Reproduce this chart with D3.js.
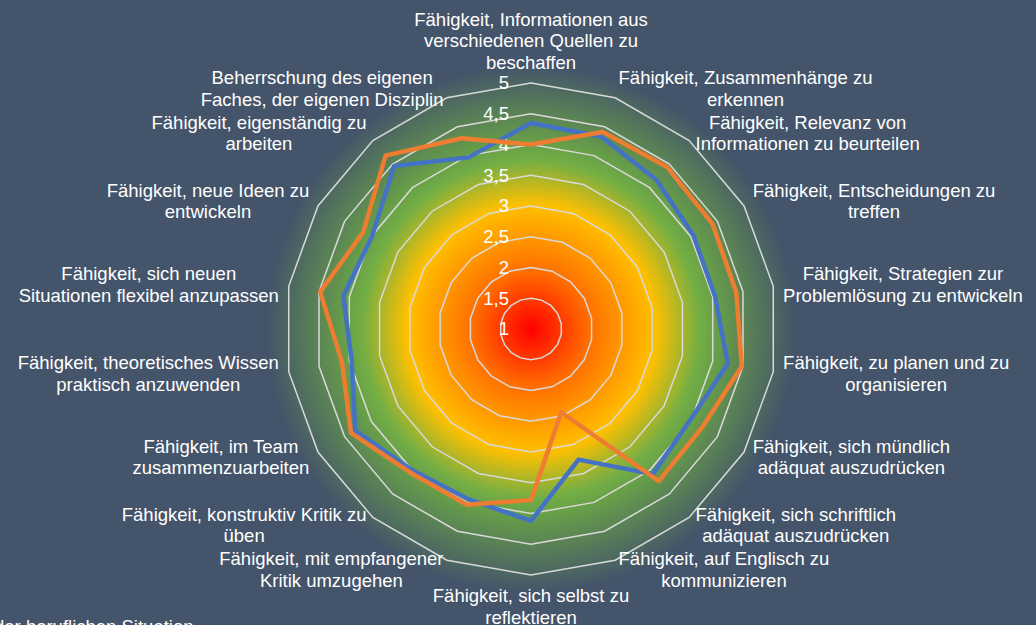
<!DOCTYPE html>
<html>
<head>
<meta charset="utf-8">
<script src="https://cdn.jsdelivr.net/npm/d3@7"></script>
<style>
  html, body { margin: 0; padding: 0; background: #44546a; }
  svg { display: block; font-family: "Liberation Sans", Arial, sans-serif; }
</style>
</head>
<body>
<div id="chart"></div>
<script>
'use strict';

// categories, clockwise from the top (line breaks as in the original)
const categories = [
  "Fähigkeit, Informationen aus\nverschiedenen Quellen zu\nbeschaffen",
  "Fähigkeit, Zusammenhänge zu\nerkennen",
  "Fähigkeit, Relevanz von\nInformationen zu beurteilen",
  "Fähigkeit, Entscheidungen zu\ntreffen",
  "Fähigkeit, Strategien zur\nProblemlösung zu entwickeln",
  "Fähigkeit, zu planen und zu\norganisieren",
  "Fähigkeit, sich mündlich\nadäquat auszudrücken",
  "Fähigkeit, sich schriftlich\nadäquat auszudrücken",
  "Fähigkeit, auf Englisch zu\nkommunizieren",
  "Fähigkeit, sich selbst zu\nreflektieren",
  "Fähigkeit, mit empfangener\nKritik umzugehen",
  "Fähigkeit, konstruktiv Kritik zu\nüben",
  "Fähigkeit, im Team\nzusammenzuarbeiten",
  "Fähigkeit, theoretisches Wissen\npraktisch anzuwenden",
  "Fähigkeit, sich neuen\nSituationen flexibel anzupassen",
  "Fähigkeit, neue Ideen zu\nentwickeln",
  "Fähigkeit, eigenständig zu\narbeiten",
  "Beherrschung des eigenen\nFaches, der eigenen Disziplin"
]

const seriesBlue   = [4.35, 4.33, 4.17, 4.05, 4.04, 4.25, 3.98, 4.08, 3.26, 4.12, 3.95, 4.00, 4.30, 3.96, 4.10, 3.99, 4.46, 3.97]
const seriesOrange = [4.00, 4.41, 4.44, 4.41, 4.39, 4.48, 4.21, 4.23, 2.44, 3.78, 4.04, 4.05, 4.38, 4.12, 4.48, 4.15, 4.68, 4.30]

const tickValues = [1, 1.5, 2, 2.5, 3, 3.5, 4, 4.5, 5]
const tickLabels = ["1", "1,5", "2", "2,5", "3", "3,5", "4", "4,5", "5"]

const cutLegendText = "der beruflichen Situation"

const width = 1036, height = 625
const cx = 531, cy = 329, radius = 246
const fontSize = 18.5, lineH = 21.5
const glowR = 264

const svg = d3.select("#chart")
  .append("svg")
  .attr("width", width)
  .attr("height", height)

svg.append("rect")
  .attr("width", width)
  .attr("height", height)
  .attr("fill", "#44546a")

// radial fill behind the grid
const grad = svg.append("defs")
  .append("radialGradient")
  .attr("id", "glow")
  .attr("gradientUnits", "userSpaceOnUse")
  .attr("cx", cx).attr("cy", cy).attr("r", glowR)

const stops = [[0, "#ff0000"], [0.22, "#ff6e00"], [0.47, "#ffc000"], [0.64, "#72ae45"], [0.7, "#68a048"], [1, "#44546a"]]
grad.selectAll("stop")
  .data(stops)
  .join("stop")
  .attr("offset", d => d[0])
  .attr("stop-color", d => d[1])

svg.append("circle")
  .attr("cx", cx).attr("cy", cy).attr("r", glowR)
  .attr("fill", "url(#glow)")

const n = categories.length
const angle = d3.scaleLinear().domain([0, n]).range([0, 2 * Math.PI])
const rScale = d3.scaleLinear().domain([1, 5]).range([0, radius])

const radial = d3.lineRadial()
  .angle((d, i) => angle(i))
  .radius(d => rScale(d))
  .curve(d3.curveLinearClosed)

const g = svg.append("g")
  .attr("transform", `translate(${cx},${cy})`)

// grid rings
g.append("g")
  .selectAll("path")
  .data(tickValues.filter(t => t > 1))
  .join("path")
  .attr("d", t => radial(categories.map(() => t)))
  .attr("fill", "none")
  .attr("stroke", "#d9d9d9")
  .attr("stroke-width", 1.5)

// tick labels along the vertical axis
g.append("g")
  .selectAll("text")
  .data(tickValues)
  .join("text")
  .attr("x", -22)
  .attr("y", d => -rScale(d))
  .attr("dy", "0.35em")
  .attr("text-anchor", "end")
  .attr("fill", "#ffffff")
  .style("font-size", fontSize + "px")
  .text((d, i) => tickLabels[i])

// series
const series = [
  {name: "blue", values: seriesBlue, color: "#4472c4"},
  {name: "orange", values: seriesOrange, color: "#ed7d31"}
]
g.append("g")
  .selectAll("path")
  .data(series)
  .join("path")
  .attr("d", d => radial(d.values))
  .attr("fill", "none")
  .attr("stroke", d => d.color)
  .attr("stroke-width", 4.5)
  .attr("stroke-linejoin", "round")

// category labels, outside the outer ring
const labelR = radius + 10
const labels = g.append("g")
  .selectAll("text")
  .data(categories)
  .join("text")
  .attr("fill", "#ffffff")
  .attr("text-anchor", "middle")
  .style("font-size", fontSize + "px")

labels.each(function(d, i) {
  const text = d3.select(this)
  const lines = d.split("\n")
  const tspans = lines.map(l => text.append("tspan").attr("dominant-baseline", "central").text(l))
  const w = d3.max(tspans, t => t.node().getComputedTextLength())
  const a = angle(i)
  const s = Math.sin(a), c = Math.cos(a)
  const px = s * labelR, py = -c * labelR
  let x = px
  if (s > 0.01) x = px + w / 2
  else if (s < -0.01) x = px - w / 2
  const h = lines.length * lineH
  let top = py - h / 2
  if (c > 0.99) top = py - h
  else if (c < -0.99) top = py
  tspans.forEach((t, k) => t.attr("x", x).attr("y", top + lineH * (k + 0.5)))
})

// legend text cut off at the bottom edge
svg.append("text")
  .attr("x", -6)
  .attr("y", 633)
  .attr("fill", "#ffffff")
  .style("font-size", fontSize + "px")
  .text(cutLegendText)
</script>
</body>
</html>
